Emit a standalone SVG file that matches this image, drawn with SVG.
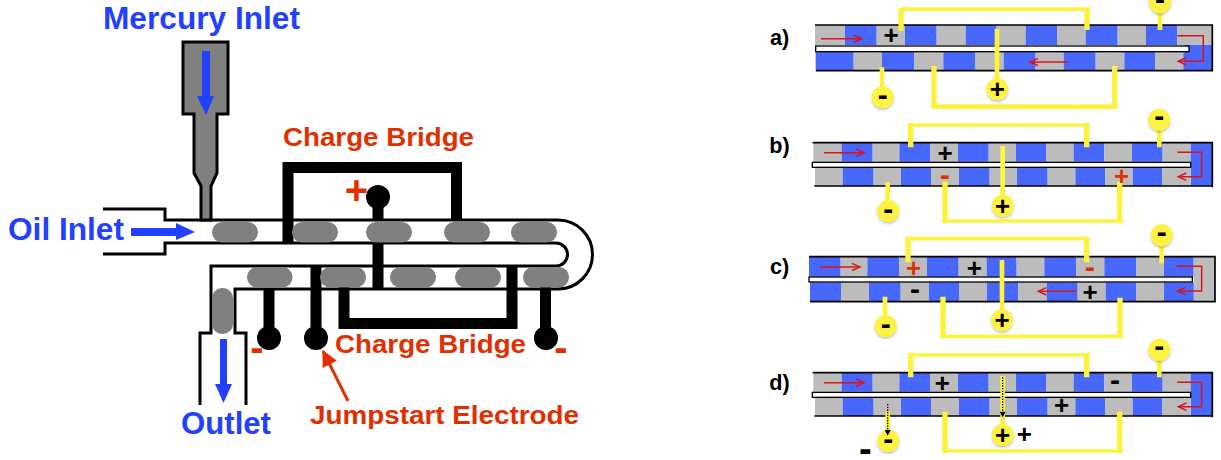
<svg xmlns="http://www.w3.org/2000/svg" width="1221" height="460" viewBox="0 0 1221 460">
<style>
text{font-family:"Liberation Sans",Arial,sans-serif;font-weight:bold}
.bl{fill:#2440ff}.rd{fill:#e03000}
.w{fill:none;stroke:#000;stroke-width:3}
.e{fill:none;stroke:#000;stroke-width:11}
.s{fill:#808080}
.g{fill:#bcbcbc}.b{fill:#4868fb}
.o{fill:none;stroke:#000;stroke-width:5}
.c{fill:#fff;stroke:#000;stroke-width:4}
.yv{fill:none;stroke:#fdf33f;stroke-width:16}
.yh{fill:none;stroke:#fdf33f;stroke-width:11}
.yt{fill:none;stroke:#fdf33f;stroke-width:14}
.n{fill:#fdf33f;filter:url(#sh)}
.ra{fill:none;stroke:#d8141c;stroke-width:4.500;marker-end:url(#ra)}
.t{font-size:78px;text-anchor:middle}
.m{font-size:90px;text-anchor:middle}
.lab{font-size:65px}
.dot{fill:none;stroke:#000;stroke-width:4;stroke-dasharray:4 4}
</style>
<defs>
<filter id="sh" x="-20%" y="-20%" width="140%" height="140%"><feDropShadow dx="0" dy="4" stdDeviation="3" flood-color="#000" flood-opacity=".3"/></filter>
<marker id="ra" markerUnits="userSpaceOnUse" markerWidth="34" markerHeight="30" refX="28" refY="15" orient="auto"><path d="M4 4L28 15L4 26" fill="none" stroke="#d8141c" stroke-width="4.500"/></marker>
<marker id="jr" markerUnits="userSpaceOnUse" markerWidth="18" markerHeight="18" refX="15" refY="9" orient="auto"><path d="M0 1L16 9L0 17Z" fill="#e03000"/></marker>
</defs>

<g id="tube">
<path class="w" d="M103 209H165V220H558A34.500 34.500 0 0 1 558 289H235V333H246V405M103 254H165V243H556A11.500 11.500 0 0 1 556 266H211V333H200V405"/>
</g>
<g id="mercury-inlet">
<path d="M183 42H228V114H217V173L211 186V220H201V186L194 173V114H183Z" fill="#808080" stroke="#000" stroke-width="3"/>
</g>
<g id="connectors">
<path class="e" d="M288 243V167.500H456.500V220"/>
<path class="e" d="M344 287V323.500H512V266"/>
<path class="e" d="M378 197V220M378 243V288"/>
<path class="e" d="M269 288V338"/>
<path class="e" d="M316 266V338"/>
<path class="e" d="M545.500 287V338"/>
<path d="M348 401L323 351" fill="none" stroke="#e03000" stroke-width="3" marker-end="url(#jr)"/>
</g>
<g id="electrode-plus"><circle cx="378" cy="197" r="12"/></g>
<g id="electrode-minus-left"><circle cx="269" cy="338" r="12"/></g>
<g id="electrode-jumpstart"><circle cx="316" cy="338" r="12"/></g>
<g id="electrode-minus-right"><circle cx="546" cy="338" r="12"/></g>
<g id="slugs">
<rect class="s" x="212" y="222" width="46" height="20.500" rx="10"/>
<rect class="s" x="292" y="222" width="46" height="20.500" rx="10"/>
<rect class="s" x="366" y="222" width="46" height="20.500" rx="10"/>
<rect class="s" x="444" y="222" width="46" height="20.500" rx="10"/>
<rect class="s" x="511" y="222" width="46" height="20.500" rx="10"/>
<rect class="s" x="247" y="267" width="45.500" height="20.500" rx="10"/>
<rect class="s" x="320" y="267" width="46" height="20.500" rx="10"/>
<rect class="s" x="390" y="267" width="46" height="20.500" rx="10"/>
<rect class="s" x="455" y="267" width="46" height="20.500" rx="10"/>
<rect class="s" x="523" y="267" width="46" height="20.500" rx="10"/>
<rect class="s" x="212" y="288" width="21" height="46" rx="10"/>
</g>
<g id="flow-arrows" class="bl">
<path d="M202 51H210V96H214L206 115L197 96H202Z"/>
<path d="M131 228H176V223L195 232L176 240V236H131Z"/>
<path d="M220 339H227V384H232L223.500 403L215 384H220Z"/>
</g>
<g id="labels-left">
<text class="bl" x="103" y="29" font-size="31" textLength="197" lengthAdjust="spacingAndGlyphs">Mercury Inlet</text>
<text class="bl" x="8" y="240" font-size="31" textLength="116" lengthAdjust="spacingAndGlyphs">Oil Inlet</text>
<text class="bl" x="181" y="434" font-size="31" textLength="90" lengthAdjust="spacingAndGlyphs">Outlet</text>
<text class="rd" x="283" y="146" font-size="26" textLength="191" lengthAdjust="spacingAndGlyphs">Charge Bridge</text>
<text class="rd" x="335" y="353" font-size="26" textLength="191" lengthAdjust="spacingAndGlyphs">Charge Bridge</text>
<text class="rd" x="310" y="424" font-size="26" textLength="269" lengthAdjust="spacingAndGlyphs">Jumpstart Electrode</text>
<text class="rd" x="356.500" y="204" font-size="40" text-anchor="middle">+</text>
<text class="rd" x="257" y="361" font-size="40" text-anchor="middle">-</text>
<text class="rd" x="561" y="361" font-size="40" text-anchor="middle">-</text>
</g>

<g id="panel-a" transform="translate(760 0) scale(.33333)">
<g id="cells-a">
<rect class="g" x="165" y="75" width="90" height="60"/><rect class="b" x="255" y="75" width="95" height="60"/><rect class="g" x="350" y="75" width="85" height="60"/><rect class="b" x="435" y="75" width="95" height="60"/><rect class="g" x="530" y="75" width="87" height="60"/><rect class="b" x="617" y="75" width="91" height="60"/><rect class="g" x="708" y="75" width="89" height="60"/><rect class="b" x="797" y="75" width="94" height="60"/><rect class="g" x="891" y="75" width="86" height="60"/><rect class="b" x="977" y="75" width="96" height="60"/><rect class="g" x="1073" y="75" width="85" height="60"/><rect class="b" x="1158" y="75" width="94" height="60"/><rect class="g" x="1252" y="75" width="105" height="60"/>
<rect class="b" x="167" y="155" width="114" height="57"/><rect class="g" x="281" y="155" width="85" height="57"/><rect class="b" x="366" y="155" width="97" height="57"/><rect class="g" x="463" y="155" width="87" height="57"/><rect class="b" x="550" y="155" width="95" height="57"/><rect class="g" x="645" y="155" width="86" height="57"/><rect class="b" x="731" y="155" width="96" height="57"/><rect class="g" x="827" y="155" width="84" height="57"/><rect class="b" x="911" y="155" width="96" height="57"/><rect class="g" x="1007" y="155" width="86" height="57"/><rect class="b" x="1093" y="155" width="92" height="57"/><rect class="g" x="1185" y="155" width="85" height="57"/><rect class="b" x="1270" y="135" width="87" height="77"/>
</g>
<rect class="c" x="167" y="138" width="1120" height="17"/>
<path class="o" d="M165 75H1357V212H168"/>
<g id="connectors-a">
<path class="yv" d="M423 92V25M981 90V25"/><path class="yh" d="M423 27.500H990"/>
<path class="yv" d="M522 198V325M1064 198V325"/><path class="yt" d="M522 320H1072"/>
<path class="yt" d="M711 87V240M366 202V260M1200 40V90"/>
<path class="ra" d="M183 116H305"/><path class="ra" d="M1252 107H1330V184H1255"/><path class="ra" d="M925 186H810"/>
</g>
<g id="a-plus"><circle class="n" cx="712" cy="268" r="33"/><text class="t" x="712" y="295">+</text></g>
<g id="a-minus-left"><circle class="n" cx="368" cy="292" r="33"/><text class="m" x="368" y="316">-</text></g>
<g id="a-minus-right"><circle class="n" cx="1200" cy="7" r="33"/><text class="m" x="1200" y="26">-</text></g>
<text class="t" x="393" y="132">+</text>
<text class="lab" x="30" y="135">a)</text>
</g>

<g id="panel-b" transform="translate(760 110) scale(.33333)">
<g id="cells-b">
<rect class="g" x="160" y="98" width="85" height="57"/><rect class="b" x="245" y="98" width="93" height="57"/><rect class="g" x="338" y="98" width="80" height="57"/><rect class="b" x="418" y="98" width="92" height="57"/><rect class="g" x="510" y="98" width="84" height="57"/><rect class="b" x="594" y="98" width="92" height="57"/><rect class="g" x="686" y="98" width="82" height="57"/><rect class="b" x="768" y="98" width="90" height="57"/><rect class="g" x="858" y="98" width="83" height="57"/><rect class="b" x="941" y="98" width="92" height="57"/><rect class="g" x="1033" y="98" width="83" height="57"/><rect class="b" x="1116" y="98" width="92" height="57"/><rect class="g" x="1208" y="98" width="84" height="57"/><rect class="b" x="1292" y="98" width="65" height="130"/>
<rect class="g" x="165" y="172" width="83" height="56"/><rect class="b" x="248" y="172" width="93" height="56"/><rect class="g" x="341" y="172" width="82" height="56"/><rect class="b" x="423" y="172" width="90" height="56"/><rect class="g" x="513" y="172" width="84" height="56"/><rect class="b" x="597" y="172" width="92" height="56"/><rect class="g" x="689" y="172" width="82" height="56"/><rect class="b" x="771" y="172" width="92" height="56"/><rect class="g" x="863" y="172" width="83" height="56"/><rect class="b" x="946" y="172" width="89" height="56"/><rect class="g" x="1035" y="172" width="83" height="56"/><rect class="b" x="1118" y="172" width="88" height="56"/><rect class="g" x="1206" y="172" width="86" height="56"/>
</g>
<rect class="c" x="157" y="157" width="1135" height="15"/>
<path class="o" d="M158 98H1357V232M1357 228H163"/>
<g id="connectors-b">
<path class="yv" d="M452 112V40M980 112V40"/><path class="yh" d="M444 45H988"/>
<path class="yv" d="M555 215V338M1079 215V338"/><path class="yh" d="M547 333H1088"/>
<path class="yt" d="M728 108V255M383 217V270M1198 60V112"/>
<path class="ra" d="M192 128H312"/><path class="ra" d="M1252 127H1325V200H1255"/>
</g>
<g id="b-plus"><circle class="n" cx="728" cy="287" r="33"/><text class="t" x="728" y="314">+</text></g>
<g id="b-minus-left"><circle class="n" cx="385" cy="303" r="33"/><text class="m" x="385" y="327">-</text></g>
<g id="b-minus-right"><circle class="n" cx="1198" cy="29" r="33"/><text class="m" x="1198" y="48">-</text></g>
<text class="t" x="555" y="157">+</text>
<text class="m rd" x="555" y="224">-</text>
<text class="t rd" x="1085" y="224">+</text>
<text class="lab" x="28" y="128">b)</text>
</g>

<g id="panel-c" transform="translate(760 225) scale(.33333)">
<g id="cells-c">
<rect class="b" x="147" y="95" width="95" height="60"/><rect class="g" x="242" y="95" width="80" height="60"/><rect class="b" x="322" y="95" width="95" height="60"/><rect class="g" x="417" y="95" width="84" height="60"/><rect class="b" x="501" y="95" width="95" height="60"/><rect class="g" x="596" y="95" width="84" height="60"/><rect class="b" x="680" y="95" width="90" height="60"/><rect class="g" x="770" y="95" width="83" height="60"/><rect class="b" x="853" y="95" width="95" height="60"/><rect class="g" x="948" y="95" width="85" height="60"/><rect class="b" x="1033" y="95" width="95" height="60"/><rect class="g" x="1128" y="95" width="84" height="60"/><rect class="b" x="1212" y="95" width="89" height="60"/><rect class="g" x="1301" y="95" width="64" height="135"/>
<rect class="b" x="150" y="172" width="93" height="58"/><rect class="g" x="243" y="172" width="84" height="58"/><rect class="b" x="327" y="172" width="95" height="58"/><rect class="g" x="422" y="172" width="85" height="58"/><rect class="b" x="507" y="172" width="90" height="58"/><rect class="g" x="597" y="172" width="84" height="58"/><rect class="b" x="681" y="172" width="94" height="58"/><rect class="g" x="775" y="172" width="85" height="58"/><rect class="b" x="860" y="172" width="93" height="58"/><rect class="g" x="953" y="172" width="84" height="58"/><rect class="b" x="1037" y="172" width="91" height="58"/><rect class="g" x="1128" y="172" width="84" height="58"/><rect class="b" x="1212" y="172" width="89" height="58"/>
</g>
<rect class="c" x="147" y="156" width="1150" height="15"/>
<path class="o" d="M147 95H1365V230H150"/>
<g id="connectors-c">
<path class="yv" d="M444 112V36M980 112V36"/><path class="yh" d="M436 41H988"/>
<path class="yv" d="M549 215V335M1080 218V335"/><path class="yh" d="M541 334H1088"/>
<path class="yt" d="M726 105V255M375 215V270M1205 60V115"/>
<path class="ra" d="M180 126H300"/><path class="ra" d="M1250 124H1325V198H1252"/><path class="ra" d="M948 199H835"/>
</g>
<g id="c-plus"><circle class="n" cx="726" cy="286" r="33"/><text class="t" x="726" y="313">+</text></g>
<g id="c-minus-left"><circle class="n" cx="377" cy="303" r="33"/><text class="m" x="377" y="327">-</text></g>
<g id="c-minus-right"><circle class="n" cx="1205" cy="31" r="33"/><text class="m" x="1205" y="50">-</text></g>
<text class="t rd" x="461" y="155">+</text>
<text class="t" x="643" y="155">+</text>
<text class="m rd" x="990" y="156">-</text>
<text class="m" x="465" y="222">-</text>
<text class="t" x="990" y="227">+</text>
<text class="lab" x="30" y="148">c)</text>
</g>

<g id="panel-d" transform="translate(760 340) scale(.33333)">
<g id="cells-d">
<rect class="g" x="160" y="98" width="85" height="57"/><rect class="b" x="245" y="98" width="93" height="57"/><rect class="g" x="338" y="98" width="80" height="57"/><rect class="b" x="418" y="98" width="92" height="57"/><rect class="g" x="510" y="98" width="84" height="57"/><rect class="b" x="594" y="98" width="92" height="57"/><rect class="g" x="686" y="98" width="82" height="57"/><rect class="b" x="768" y="98" width="90" height="57"/><rect class="g" x="858" y="98" width="83" height="57"/><rect class="b" x="941" y="98" width="92" height="57"/><rect class="g" x="1033" y="98" width="83" height="57"/><rect class="b" x="1116" y="98" width="92" height="57"/><rect class="g" x="1208" y="98" width="84" height="57"/><rect class="b" x="1292" y="98" width="65" height="130"/>
<rect class="g" x="165" y="172" width="83" height="56"/><rect class="b" x="248" y="172" width="93" height="56"/><rect class="g" x="341" y="172" width="82" height="56"/><rect class="b" x="423" y="172" width="90" height="56"/><rect class="g" x="513" y="172" width="84" height="56"/><rect class="b" x="597" y="172" width="92" height="56"/><rect class="g" x="689" y="172" width="82" height="56"/><rect class="b" x="771" y="172" width="92" height="56"/><rect class="g" x="863" y="172" width="83" height="56"/><rect class="b" x="946" y="172" width="89" height="56"/><rect class="g" x="1035" y="172" width="83" height="56"/><rect class="b" x="1118" y="172" width="88" height="56"/><rect class="g" x="1206" y="172" width="86" height="56"/>
</g>
<rect class="c" x="157" y="157" width="1135" height="15"/>
<path class="o" d="M158 98H1357V232M1357 228H163"/>
<g id="connectors-d">
<path class="yv" d="M452 112V40M980 112V40"/><path class="yh" d="M444 45H988"/>
<path class="yv" d="M555 215V338M1079 215V338"/><path class="yh" d="M547 333H1088"/>
<path class="yt" d="M728 108V255M383 215V270M1198 60V112"/>
<path class="ra" d="M192 128H312"/><path class="ra" d="M1252 127H1325V200H1255"/>
<path class="dot" d="M728 112V215"/><path d="M719 215H737L728 232Z"/>
<path class="dot" d="M383 192V270"/>
</g>
<g id="d-plus"><circle class="n" cx="728" cy="285" r="33"/><text class="t" x="728" y="312">+</text></g>
<g id="d-minus-left"><circle class="n" cx="385" cy="303" r="33"/><path d="M374 270H392L383 287Z"/><text class="m" x="385" y="327">-</text></g>
<g id="d-minus-right"><circle class="n" cx="1198" cy="29" r="33"/><text class="m" x="1198" y="48">-</text></g>
<text class="t" x="547" y="155">+</text>
<text class="m" x="1065" y="150">-</text>
<text class="t" x="905" y="222">+</text>
<text class="t" x="793" y="308">+</text>
<text class="t" x="316" y="366" style="font-size:115px">-</text>
<text class="lab" x="28" y="150">d)</text>
</g>
</svg>
